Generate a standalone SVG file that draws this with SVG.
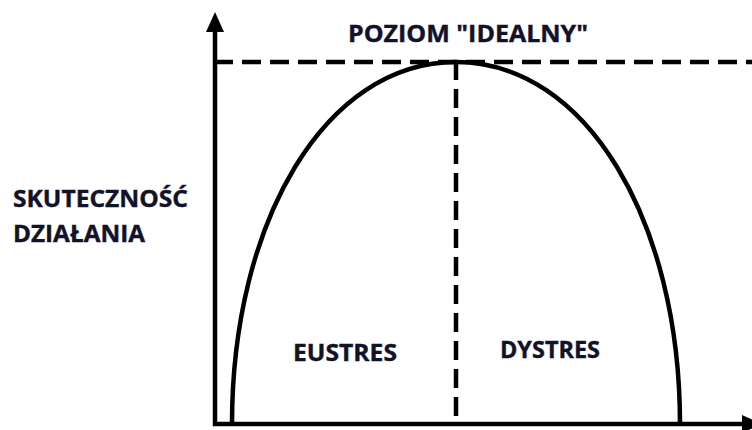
<svg xmlns="http://www.w3.org/2000/svg" width="752" height="430" viewBox="0 0 752 430">
<style>
.axis{stroke:#000;stroke-width:4.5;fill:none}
.dash{stroke:#000;stroke-width:4.5;fill:none;stroke-dasharray:19 9}
.curve{stroke:#000;stroke-width:4.5;fill:none}
.lbl{font-family:"Open Sans","Liberation Sans",sans-serif;font-weight:bold;font-size:24px;fill:#12122a;stroke:#12122a;stroke-width:0.4}
</style>
<rect width="752" height="430" fill="#fff"/>
<g id="connectors">
<line class="axis" x1="215" y1="30" x2="215" y2="426"/>
<polygon points="215,12 206,32 224,32" fill="#000"/>
<line class="axis" x1="213" y1="424" x2="745" y2="424"/>
<polygon points="762,424 742,415 742,433" fill="#000"/>
<line class="dash" x1="214" y1="62" x2="752" y2="62"/>
<line class="dash" x1="456" y1="61" x2="456" y2="424"/>
</g>
<g id="curve">
<path class="curve" d="M232,424 C232,222 325,62 456,62 C587,62 680,222 680,424"/>
</g>
<g id="ideal"><text class="lbl" x="348" y="42" textLength="240" lengthAdjust="spacingAndGlyphs">POZIOM "IDEALNY"</text></g>
<g id="yLabel">
<text class="lbl" x="13" y="207" textLength="175" lengthAdjust="spacingAndGlyphs">SKUTECZNOŚĆ</text>
<text class="lbl" x="13" y="242" textLength="132" lengthAdjust="spacingAndGlyphs">DZIAŁANIA</text>
</g>
<g id="eustres"><text class="lbl" x="293" y="361" textLength="104" lengthAdjust="spacingAndGlyphs">EUSTRES</text></g>
<g id="dystres"><text class="lbl" x="500" y="358" textLength="100" lengthAdjust="spacingAndGlyphs">DYSTRES</text></g>
</svg>
